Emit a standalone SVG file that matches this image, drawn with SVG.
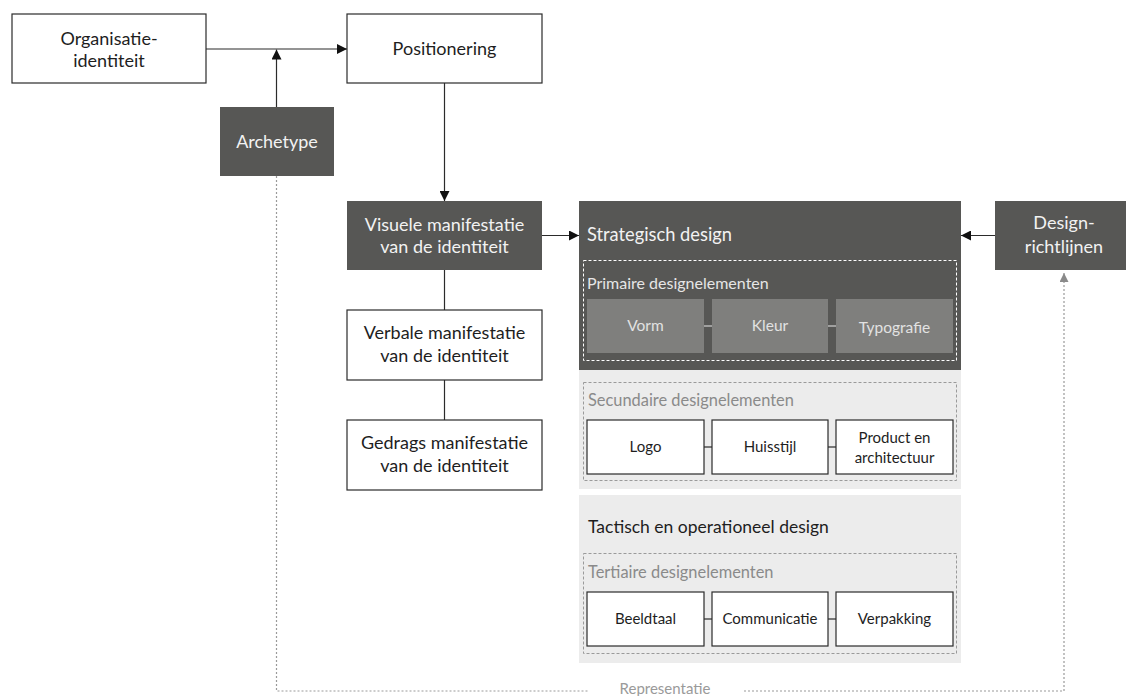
<svg xmlns="http://www.w3.org/2000/svg" width="1126" height="696" viewBox="0 0 1126 696">
<style>
text{font-family:Lato,"Noto Sans","Liberation Sans",sans-serif;text-anchor:middle}
.wb{fill:#fff;stroke:#2b2b2b;stroke-width:1.2}
.db{fill:#575755}
.mb{fill:#7f7f7d}
.lp{fill:#ececec}
.t{font-size:18px;fill:#1e1e1e}
.tw{font-size:18px;fill:#f2f2f2}
.ts{font-size:15px;fill:#1e1e1e}
.tm{font-size:15.5px;fill:#e2e2e2}
.lab{font-size:16.4px;fill:#8a8a8a;text-anchor:start}
.ln{stroke:#2b2b2b;stroke-width:1.2;fill:none}
.dot{stroke:#9a9a9a;stroke-width:1.2;stroke-dasharray:2 2;fill:none}
.wdash{stroke:#fff;stroke-width:1;stroke-dasharray:3 2;fill:none}
.gdash{stroke:#9a9a9a;stroke-width:1;stroke-dasharray:3 2;fill:none}
</style>
<defs>
<marker id="ah" viewBox="0 0 10 10" refX="10" refY="5" markerWidth="10" markerHeight="10" markerUnits="userSpaceOnUse" orient="auto"><path d="M0,0L10,5L0,10z" fill="#111"/></marker>
<marker id="ahg" viewBox="0 0 10 10" refX="10" refY="5" markerWidth="9" markerHeight="9" markerUnits="userSpaceOnUse" orient="auto"><path d="M0,0L10,5L0,10z" fill="#8a8a8a"/></marker>
</defs>

<g id="panels">
<rect x="579" y="201" width="382" height="169" class="db"/>
<rect x="579" y="370" width="382" height="119" class="lp"/>
<rect x="579" y="495" width="382" height="168" class="lp"/>
<rect x="583.5" y="260.5" width="373" height="100" class="wdash"/>
<rect x="583.5" y="382.5" width="373" height="98" class="gdash"/>
<rect x="583.5" y="553.5" width="373" height="100" class="gdash"/>
<text x="587" y="241" style="font-size:18.3px;fill:#f2f2f2;text-anchor:start">Strategisch design</text>
<text x="587" y="289" style="font-size:16px;fill:#e6e6e6;text-anchor:start">Primaire designelementen</text>
<text x="588" y="406" class="lab">Secundaire designelementen</text>
<text x="588" y="533" style="font-size:17.5px;fill:#1e1e1e;text-anchor:start">Tactisch en operationeel design</text>
<text x="588" y="578" class="lab">Tertiaire designelementen</text>
</g>

<g id="connectors">
<line x1="206" y1="49" x2="347" y2="49" class="ln" marker-end="url(#ah)"/>
<line x1="276.5" y1="107" x2="276.5" y2="49.5" class="ln" marker-end="url(#ah)"/>
<line x1="444.5" y1="83" x2="444.5" y2="201" class="ln" marker-end="url(#ah)"/>
<line x1="542" y1="235.5" x2="579" y2="235.5" class="ln" marker-end="url(#ah)"/>
<line x1="995" y1="235.5" x2="961" y2="235.5" class="ln" marker-end="url(#ah)"/>
<line x1="444.5" y1="270" x2="444.5" y2="310" class="ln"/>
<line x1="444.5" y1="380" x2="444.5" y2="420" class="ln"/>
<line x1="704" y1="326" x2="712" y2="326" stroke="#d0d0d0" stroke-width="1.2"/>
<line x1="828" y1="326" x2="836" y2="326" stroke="#d0d0d0" stroke-width="1.2"/>
<line x1="704" y1="447" x2="712" y2="447" class="ln"/>
<line x1="828" y1="447" x2="836" y2="447" class="ln"/>
<line x1="704" y1="619" x2="712" y2="619" class="ln"/>
<line x1="828" y1="619" x2="836" y2="619" class="ln"/>
<path d="M276.5,176V691H588" class="dot"/>
<path d="M744,691H1064V273" class="dot" marker-end="url(#ahg)"/>
<text x="665" y="694" style="font-size:15px;fill:#9a9a9a">Representatie</text>
</g>

<g id="organisatie"><rect x="12" y="14" width="194" height="69" class="wb"/><text x="109" y="45" class="t">Organisatie-</text><text x="109" y="67" class="t">identiteit</text></g>
<g id="positionering"><rect x="347" y="14" width="195" height="69" class="wb"/><text x="444.5" y="55" class="t">Positionering</text></g>
<g id="archetype"><rect x="220" y="107" width="114" height="69" class="db"/><text x="277" y="148" class="tw">Archetype</text></g>
<g id="visuele"><rect x="347" y="201" width="195" height="69" class="db"/><text x="444.5" y="231" class="tw">Visuele manifestatie</text><text x="444.5" y="253" class="tw">van de identiteit</text></g>
<g id="verbale"><rect x="347" y="310" width="195" height="70" class="wb"/><text x="444.5" y="339" class="t">Verbale manifestatie</text><text x="444.5" y="362" class="t">van de identiteit</text></g>
<g id="gedrags"><rect x="347" y="420" width="195" height="70" class="wb"/><text x="444.5" y="449" class="t">Gedrags manifestatie</text><text x="444.5" y="472" class="t">van de identiteit</text></g>
<g id="designrichtlijnen"><rect x="995" y="201" width="140" height="69" class="db"/><text x="1064" y="229" class="tw">Design-</text><text x="1064" y="253" class="tw">richtlijnen</text></g>

<g id="vorm"><rect x="587" y="299" width="117" height="54" class="mb"/><text x="645.5" y="331" class="tm">Vorm</text></g>
<g id="kleur"><rect x="712" y="299" width="116" height="54" class="mb"/><text x="770" y="331" class="tm">Kleur</text></g>
<g id="typografie"><rect x="836" y="299" width="117" height="54" class="mb"/><text x="894.5" y="333" class="tm">Typografie</text></g>

<g id="logo"><rect x="587" y="420" width="117" height="54" class="wb"/><text x="645.5" y="452" class="ts">Logo</text></g>
<g id="huisstijl"><rect x="712" y="420" width="116" height="54" class="wb"/><text x="770" y="452" class="ts">Huisstijl</text></g>
<g id="product"><rect x="836" y="420" width="117" height="54" class="wb"/><text x="894.5" y="443" class="ts">Product en</text><text x="894.5" y="463" class="ts">architectuur</text></g>

<g id="beeldtaal"><rect x="587" y="592" width="117" height="54" class="wb"/><text x="645.5" y="624" class="ts">Beeldtaal</text></g>
<g id="communicatie"><rect x="712" y="592" width="116" height="54" class="wb"/><text x="770" y="624" class="ts">Communicatie</text></g>
<g id="verpakking"><rect x="836" y="592" width="117" height="54" class="wb"/><text x="894.5" y="624" class="ts">Verpakking</text></g>
</svg>
